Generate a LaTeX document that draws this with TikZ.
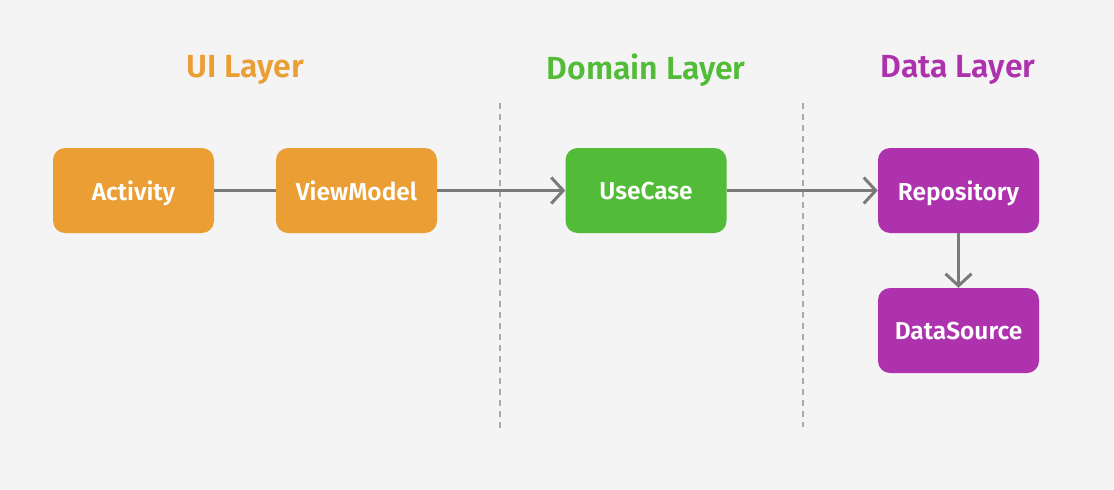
\documentclass[tikz,border=0pt]{standalone}
\usepackage{fontspec}
\setmainfont{Fira Sans}[BoldFont={* SemiBold}]
\usetikzlibrary{arrows.meta}
\definecolor{bgc}{HTML}{F4F4F4}
\definecolor{uic}{HTML}{EA9E33}
\definecolor{domc}{HTML}{52BB38}
\definecolor{datac}{HTML}{AE31AE}
\definecolor{arrc}{HTML}{7A7A7A}
\definecolor{dashc}{HTML}{AAAAAA}
\begin{document}
\begin{tikzpicture}[x=1pt,y=-1pt,
  box/.style={draw=none,rounded corners=12pt,minimum width=161pt,minimum height=85pt,inner sep=0pt,text depth=0pt,text=white,font=\fontsize{24.5}{28}\selectfont\bfseries},
  title/.style={font=\fontsize{32}{36}\selectfont\bfseries},
  conn/.style={draw=arrc,line width=3pt},
  arr/.style={conn,-{Straight Barb[length=12pt,width=26pt,line width=3pt]}},
  sep/.style={draw=dashc,line width=2pt,dash pattern=on 6pt off 5pt}]
\fill[bgc] (0,0) rectangle (1114,490);
\useasboundingbox (0,0) rectangle (1114,490);
\node[title,text=uic] (tui) at (245,70) {UI Layer};
\node[title,text=domc] (tdom) at (646,70) {Domain Layer};
\node[title,text=datac] (tdata) at (958,70) {Data Layer};
\coordinate (s1a) at (500,103); \coordinate (s1b) at (500,433);
\coordinate (s2a) at (803,103); \coordinate (s2b) at (803,427);
\draw[sep] (s1a) -- (s1b);
\draw[sep] (s2a) -- (s2b);
\node[box,fill=uic] (act) at (133.5,190.5) {Activity};
\node[box,fill=uic] (vm) at (356.5,190.5) {ViewModel};
\node[box,fill=domc] (uc) at (646,190.5) {UseCase};
\node[box,fill=datac] (repo) at (958.5,190.5) {Repository};
\node[box,fill=datac] (ds) at (958.5,330.5) {DataSource};
\draw[conn] (act) -- (vm);
\draw[arr] (vm) -- (uc);
\draw[arr] (uc) -- (repo);
\draw[arr] (repo) -- (ds);
\end{tikzpicture}
\end{document}
